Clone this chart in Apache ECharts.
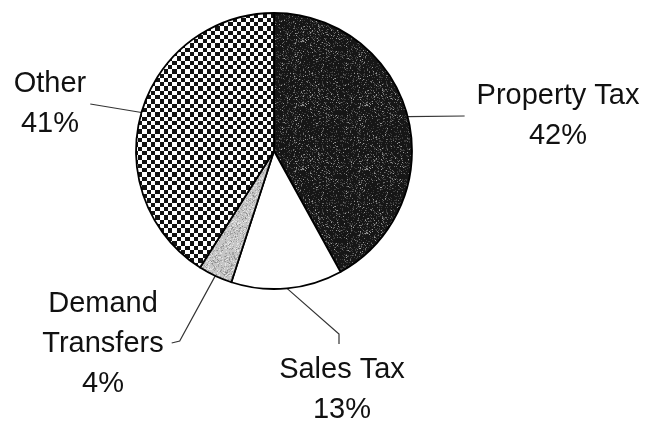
<!DOCTYPE html>
<html>
<head>
<meta charset="utf-8">
<script src="https://cdn.jsdelivr.net/npm/echarts@6/dist/echarts.min.js"></script>
<style>
  html, body { margin: 0; padding: 0; background: #fff; }
  #chart { width: 654px; height: 427px; }
</style>
</head>
<body>
<div id="chart"></div>
<script>
// Revenue sources, percent of total
const categories = ['Property Tax', 'Sales Tax', 'Demand Transfers', 'Other'];
const shares = [42, 13, 4, 41];
const labelNames = ['Property Tax', 'Sales Tax', 'Demand\nTransfers', 'Other'];

// Where each label block is centred, and which side its leader line enters
const labelCentres = [[558, 116], [342, 390], [103, 344], [50, 104]];
const leaderSide = ['left', 'top', 'right', 'right'];

// deterministic grain for the printed-looking fills
function grain(i, j, seed) {
  let h = (i * 73856093) ^ (j * 19349663) ^ (seed * 83492791);
  h = Math.imul(h ^ (h >>> 13), 1274126177);
  h = h ^ (h >>> 16);
  return ((h >>> 0) % 1000) / 1000;
}

function speckled(size, base, flecks, seed) {
  const c = document.createElement('canvas');
  c.width = c.height = size;
  const g = c.getContext('2d');
  g.fillStyle = base;
  g.fillRect(0, 0, size, size);
  for (let i = 0; i < size; i++) {
    for (let j = 0; j < size; j++) {
      const r = grain(i, j, seed);
      let acc = 0;
      for (const [colour, p] of flecks) {
        acc += p;
        if (r < acc) { g.fillStyle = colour; g.fillRect(i, j, 1, 1); break; }
      }
    }
  }
  return c;
}

function checker(cell, periods) {
  const size = Math.round(cell * 2 * periods);
  const c = document.createElement('canvas');
  c.width = c.height = size;
  const g = c.getContext('2d');
  const img = g.createImageData(size, size);
  for (let y = 0; y < size; y++) {
    for (let x = 0; x < size; x++) {
      const dark = (Math.floor(x / cell) + Math.floor(y / cell)) % 2 === 0;
      const v = dark ? 18 : 255;
      const k = (y * size + x) * 4;
      img.data[k] = img.data[k + 1] = img.data[k + 2] = v;
      img.data[k + 3] = 255;
    }
  }
  g.putImageData(img, 0, 0);
  return c;
}

const fills = [
  { image: speckled(64, '#161616', [['#6a6a6a', 0.06], ['#3c3c3c', 0.14], ['#9a9a9a', 0.02]], 3), repeat: 'repeat' },
  '#ffffff',
  { image: speckled(48, '#c6c6c6', [['#a2a2a2', 0.18], ['#e4e4e4', 0.14], ['#8a8a8a', 0.04]], 7), repeat: 'repeat' },
  { image: checker(4.3, 5), repeat: 'repeat' }
];

const chart = echarts.init(document.getElementById('chart'), null, { renderer: 'canvas' });

chart.setOption({
  animation: false,
  backgroundColor: '#ffffff',
  series: [{
    type: 'pie',
    center: [274, 151],
    radius: 138,
    startAngle: 90,
    clockwise: true,
    avoidLabelOverlap: false,
    silent: true,
    data: categories.map((name, i) => ({
      name: name,
      value: shares[i],
      itemStyle: { color: fills[i] }
    })),
    itemStyle: { borderColor: '#000', borderWidth: 1.8 },
    label: {
      show: true,
      position: 'outside',
      fontFamily: 'Liberation Sans, Arial, sans-serif',
      fontSize: 29,
      lineHeight: 40,
      color: '#111',
      formatter: p => labelNames[p.dataIndex] + '\n' + p.value + '%'
    },
    labelLine: {
      show: true,
      length: 12,
      length2: 20,
      smooth: false,
      lineStyle: { color: '#333', width: 1.2 }
    },
    labelLayout: function (p) {
      const i = p.dataIndex;
      const cx = labelCentres[i][0], cy = labelCentres[i][1];
      const w = p.labelRect.width, h = p.labelRect.height;
      const left = cx - w / 2, right = cx + w / 2, top = cy - h / 2;
      const a = p.labelLinePoints[0];
      let pts;
      if (leaderSide[i] === 'left') {
        pts = [a, [left - 12, cy]];
      } else if (leaderSide[i] === 'top') {
        pts = [a, [cx - 3, top - 16], [cx - 3, top - 6]];
      } else if (i === 2) {
        pts = [a, [right + 16, cy - 3], [right + 8, cy - 1]];
      } else {
        pts = [a, [right + 4, cy]];
      }
      return { x: cx, y: cy, align: 'center', verticalAlign: 'middle', labelLinePoints: pts };
    },
    emphasis: { disabled: true }
  }]
});
</script>
</body>
</html>
